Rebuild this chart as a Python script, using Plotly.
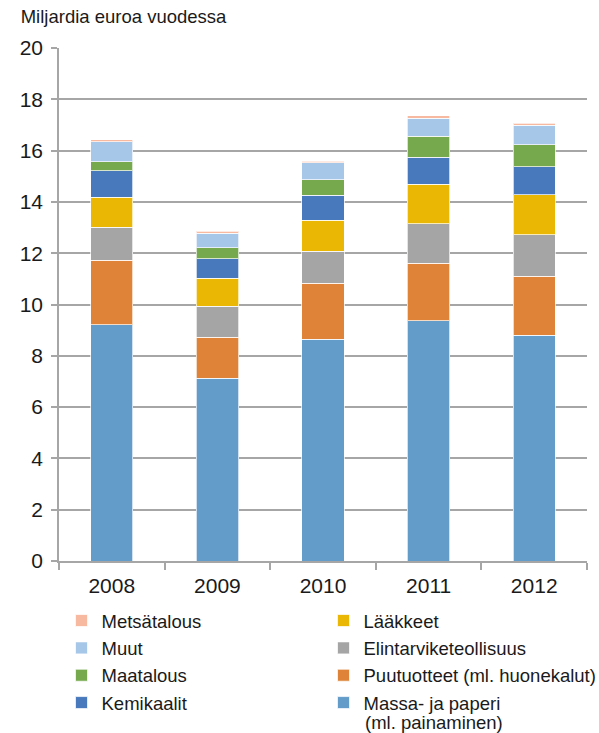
import plotly.graph_objects as go

years = ["2008", "2009", "2010", "2011", "2012"]

massa = [9.21, 7.12, 8.65, 9.36, 8.80]
puutuotteet = [2.51, 1.60, 2.17, 2.25, 2.31]
elintarvike = [1.29, 1.21, 1.25, 1.53, 1.61]
laakkeet = [1.17, 1.10, 1.21, 1.55, 1.55]
kemikaalit = [1.04, 0.76, 0.97, 1.05, 1.10]
maatalous = [0.35, 0.42, 0.62, 0.82, 0.85]
muut = [0.78, 0.57, 0.65, 0.71, 0.77]
metsatalous = [0.07, 0.08, 0.07, 0.08, 0.08]

# (name, values, colour, legend, rank within legend column)
series = [
    ("Massa- ja paperi", massa, "#639BC9", "legend2", 4),
    ("Puutuotteet (ml. huonekalut)", puutuotteet, "#DE8337", "legend2", 3),
    ("Elintarviketeollisuus", elintarvike, "#A5A5A5", "legend2", 2),
    ("Lääkkeet", laakkeet, "#EAB705", "legend2", 1),
    ("Kemikaalit", kemikaalit, "#4779BC", "legend", 4),
    ("Maatalous", maatalous, "#76A84E", "legend", 3),
    ("Muut", muut, "#A7C7E8", "legend", 2),
    ("Metsätalous", metsatalous, "#F7B9A0", "legend", 1),
]
massa_second_line = "(ml. painaminen)"

fig = go.Figure()
for i, (name, vals, col, lg, rank) in enumerate(series):
    fig.add_trace(go.Bar(
        x=years, y=vals, name=name, legend=lg, legendgroup=f"g{i}", legendrank=rank,
        marker=dict(color=col, line=dict(color="rgba(255,255,255,0.7)", width=1)),
    ))

font_family = "Liberation Sans, Arial, sans-serif"
W, H = 599, 733
L, R, T, B = 59, 11.5, 48.3, 172
pw, ph = W - L - R, H - T - B

fig.add_annotation(text=massa_second_line, xref="paper", yref="paper",
                   x=(363.3 - L) / pw, y=(H - B - 722.5) / ph,
                   xanchor="left", yanchor="middle", showarrow=False,
                   font=dict(size=18.5, color="#1a1a1a"))

fig.update_layout(
    width=W, height=H,
    barmode="stack", bargap=0.6,
    plot_bgcolor="white", paper_bgcolor="white",
    margin=dict(l=L, r=R, t=T, b=B, autoexpand=False, pad=0),
    font=dict(family=font_family, color="#1a1a1a", size=18),
    title=dict(text="Miljardia euroa vuodessa", x=20.7 / W, xref="container", xanchor="left",
               y=1 - 17 / H, yref="container", yanchor="middle",
               font=dict(size=18.5, color="#1a1a1a")),
    xaxis=dict(type="category", showline=True, linecolor="#A6A6A6", linewidth=1.5,
               ticks="outside", ticklen=7, tickcolor="#A6A6A6", tickwidth=1.5,
               tickson="boundaries", tickfont=dict(size=21), ticklabelstandoff=5,
               tickangle=0),
    yaxis=dict(range=[0, 20], dtick=2, showline=True, linecolor="#A6A6A6", linewidth=1.5,
               showgrid=True, gridcolor="#A6A6A6", gridwidth=1.5, zeroline=False,
               ticks="outside", ticklen=6, tickcolor="#A6A6A6", tickwidth=1.5,
               tickfont=dict(size=21), ticklabelstandoff=4),
    legend=dict(xref="container", yref="container", x=61.5 / W, y=1 - 602 / H,
                xanchor="left", yanchor="top", traceorder="grouped",
                tracegroupgap=0.3, valign="top",
                font=dict(size=18.5), bgcolor="rgba(0,0,0,0)"),
    legend2=dict(xref="container", yref="container", x=323.5 / W, y=1 - 602 / H,
                 xanchor="left", yanchor="top", traceorder="grouped",
                 tracegroupgap=0.3, valign="top",
                 font=dict(size=18.5), bgcolor="rgba(0,0,0,0)"),
)

fig.write_html("out.html", config={"displayModeBar": False},
               post_script="document.body.style.margin='0px';")
